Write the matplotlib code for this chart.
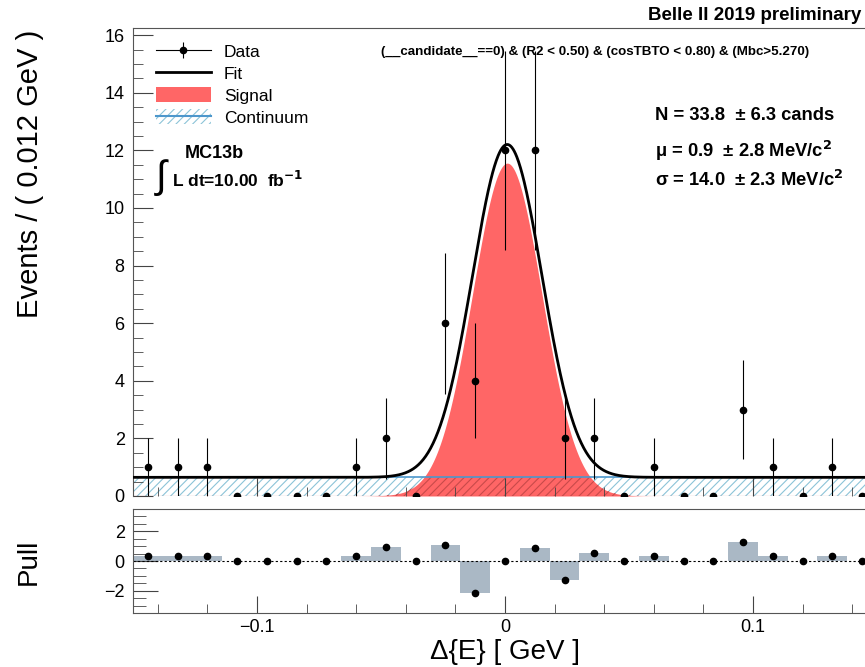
import numpy as np
import matplotlib
matplotlib.use('Agg')
import matplotlib.pyplot as plt
from matplotlib.ticker import MultipleLocator, FuncFormatter
from matplotlib.patches import Patch
from matplotlib.lines import Line2D
from matplotlib.legend_handler import HandlerTuple

plt.rcParams['font.family'] = ['Liberation Sans', 'DejaVu Sans']
plt.rcParams['hatch.linewidth'] = 0.8

# binned data (Delta E, 0.012 GeV bins)
bin_centers = [-0.144, -0.132, -0.120, -0.108, -0.096, -0.084, -0.072, -0.060, -0.048,
               -0.036, -0.024, -0.012, 0.000, 0.012, 0.024, 0.036, 0.048, 0.060,
               0.072, 0.084, 0.096, 0.108, 0.120, 0.132, 0.144]
counts = [1, 1, 1, 0, 0, 0, 0, 1, 2, 0, 6, 4, 12, 12, 2, 2, 0, 1, 0, 0, 3, 1, 0, 1, 0]
count_err = [1, 1, 1, 0, 0, 0, 0, 1, 1.41, 0, 2.45, 2, 3.46, 3.46, 1.41, 1.41, 0, 1,
             0, 0, 1.73, 1, 0, 1, 0]
pulls = [0.35, 0.35, 0.35, 0, 0, 0, 0, 0.33, 0.91, 0, 1.11, -2.15, 0.03, 0.85, -1.27,
         0.51, 0, 0.33, 0, 0, 1.29, 0.33, 0, 0.33, 0]

# fit result
n_sig = 33.8
mu = 0.0009
sigma = 0.0140
cont_level = 0.648
bin_width = 0.012

x_fine = np.linspace(-0.15, 0.15, 1201)
sig_curve = n_sig * bin_width / (sigma * np.sqrt(2 * np.pi)) * np.exp(-0.5 * ((x_fine - mu) / sigma) ** 2)
fit_curve = sig_curve + cont_level

RED = '#ff6666'
HATCH = '#8cc4d8'
BLUE = '#4d97cc'
FRAME = '#555555'

W, H = 865, 667
fig = plt.figure(figsize=(8.65, 6.67), dpi=100)


def box(l, t, r, b):
    return [l / W, 1 - b / H, (r - l) / W, (b - t) / H]


ax = fig.add_axes(box(133, 28, 877, 496))
axp = fig.add_axes(box(133, 509, 877, 613))

# main panel
ax.fill_between([-0.15, 0.15], 0, cont_level, facecolor='none', edgecolor=HATCH,
                hatch='////', lw=0, zorder=0.8)
sig = ax.fill_between(x_fine, 0, sig_curve, color=RED, lw=0, zorder=1)
# hatch continues over the signal area in a darker red
over = ax.fill_between([-0.15, 0.15], 0, cont_level, facecolor='none', edgecolor='#c84a4a',
                       hatch='////', lw=0, zorder=1.2)
over.set_clip_path(sig.get_paths()[0], ax.transData)
ax.axhline(0, color='#b04040', lw=0.8, zorder=1.5)
ax.axhline(cont_level, color=BLUE, lw=1.2, zorder=3)
ax.plot(x_fine, fit_curve, color='k', lw=2, zorder=4)
ax.errorbar(bin_centers, counts, yerr=count_err, fmt='o', color='k', ms=4.5,
            elinewidth=0.8, capsize=0, zorder=5)

ax.set_xlim(-0.15, 0.15)
ax.set_ylim(0, 16.25)
ax.xaxis.set_major_locator(MultipleLocator(0.1))
ax.xaxis.set_minor_locator(MultipleLocator(0.02))
ax.yaxis.set_major_locator(MultipleLocator(2))
ax.yaxis.set_minor_locator(MultipleLocator(0.5))
ax.tick_params(which='both', direction='in', top=False, right=False, labelbottom=False, color='#444444')
ax.tick_params(axis='y', which='major', length=14.4, labelsize=13, pad=6)
ax.tick_params(axis='y', which='minor', length=7)
ax.tick_params(axis='x', which='major', length=13)
ax.tick_params(axis='x', which='minor', length=6.5)
ax.spines['bottom'].set_visible(False)
for s in ['top', 'left', 'right']:
    ax.spines[s].set_color(FRAME)

h_data = (Line2D([], [], color='k', lw=0.8),
          Line2D([], [], color='k', marker='o', ms=4.5, ls='none'),
          Line2D([], [], color='k', marker='|', ms=12, mew=0.8, ls='none'))
h_fit = Line2D([], [], color='k', lw=2)
h_sig = Patch(facecolor=RED, edgecolor='none')
h_cont = (Patch(facecolor='none', edgecolor=HATCH, hatch='////', lw=0),
          Line2D([], [], color=BLUE, lw=1.5))
ax.legend([h_data, h_fit, h_sig, h_cont], ['Data', 'Fit', 'Signal', 'Continuum'],
          handler_map={tuple: HandlerTuple(ndivide=1)},
          loc='upper left', bbox_to_anchor=(147 / W, 1 - 35 / H), bbox_transform=fig.transFigure,
          frameon=False, fontsize=12.5, borderpad=0, handlelength=3.17, handleheight=0.92,
          labelspacing=0.32, handletextpad=0.75)

# pull panel
axp.bar(bin_centers, pulls, width=bin_width, color='#aab8c5', lw=0, zorder=1)
axp.axhline(0, color='k', lw=0.8, ls=(0, (2, 2)), zorder=2)
axp.plot(bin_centers, pulls, 'o', color='k', ms=4.5, zorder=3)
axp.set_xlim(-0.15, 0.15)
axp.set_ylim(-3.5, 3.5)
axp.xaxis.set_major_locator(MultipleLocator(0.1))
axp.xaxis.set_minor_locator(MultipleLocator(0.02))
axp.yaxis.set_major_locator(MultipleLocator(2))
axp.yaxis.set_minor_locator(MultipleLocator(0.5))


def fmt(v, p):
    v = round(v, 3)
    if v == 0:
        return '0'
    return f'{v:g}'.replace('-', '\u2212')


axp.xaxis.set_major_formatter(FuncFormatter(fmt))
axp.yaxis.set_major_formatter(FuncFormatter(fmt))
axp.tick_params(which='both', direction='in', top=False, right=False, color='#444444', labelsize=13)
axp.tick_params(axis='y', which='major', length=18, pad=6)
axp.tick_params(axis='y', which='minor', length=9)
axp.tick_params(axis='x', which='major', length=12, pad=4)
axp.tick_params(axis='x', which='minor', length=6.5)
for s in axp.spines.values():
    s.set_color(FRAME)

# titles and annotations
fig.text(30 / W, 1 - 30 / H, 'Events / ( 0.012 GeV )', rotation=90, ha='center', va='top', fontsize=21)
fig.text(29 / W, 1 - 562 / H, 'Pull', rotation=90, ha='center', va='center', fontsize=20)
fig.text(505 / W, 1 - 652 / H, '\u0394{E} [ GeV ]', ha='center', va='center', fontsize=20)
fig.text(861 / W, 1 - 15 / H, 'Belle II 2019 preliminary', ha='right', va='center',
         fontsize=13.5, weight='bold')
fig.text(595 / W, 1 - 52 / H,
         '(__candidate__==0) & (R2 < 0.50) & (cosTBTO < 0.80) & (Mbc>5.270)',
         ha='center', va='center', fontsize=9.6, weight='bold')
fig.text(655 / W, 1 - 116 / H, 'N = 33.8  \u00b1 6.3 cands', ha='left', va='center',
         fontsize=13.2, weight='bold')
fig.text(655 / W, 1 - 151 / H, '\u03bc = 0.9  \u00b1 2.8 MeV/c$^{\\mathbf{2}}$',
         ha='left', va='center', fontsize=13.2, weight='bold')
fig.text(655 / W, 1 - 180 / H, '\u03c3 = 14.0  \u00b1 2.3 MeV/c$^{\\mathbf{2}}$',
         ha='left', va='center', fontsize=13.2, weight='bold')
fig.text(185 / W, 1 - 154 / H, 'MC13b', ha='left', va='center', fontsize=13, weight='bold')
fig.text(161 / W, 1 - 178 / H, '\u222b', ha='center', va='center', fontsize=28)
fig.text(172 / W, 1 - 180 / H, r'L dt=10.00  fb$^{\mathbf{-1}}$', ha='left', va='center',
         fontsize=12.5, weight='bold')

fig.savefig('out.png', dpi=100)
